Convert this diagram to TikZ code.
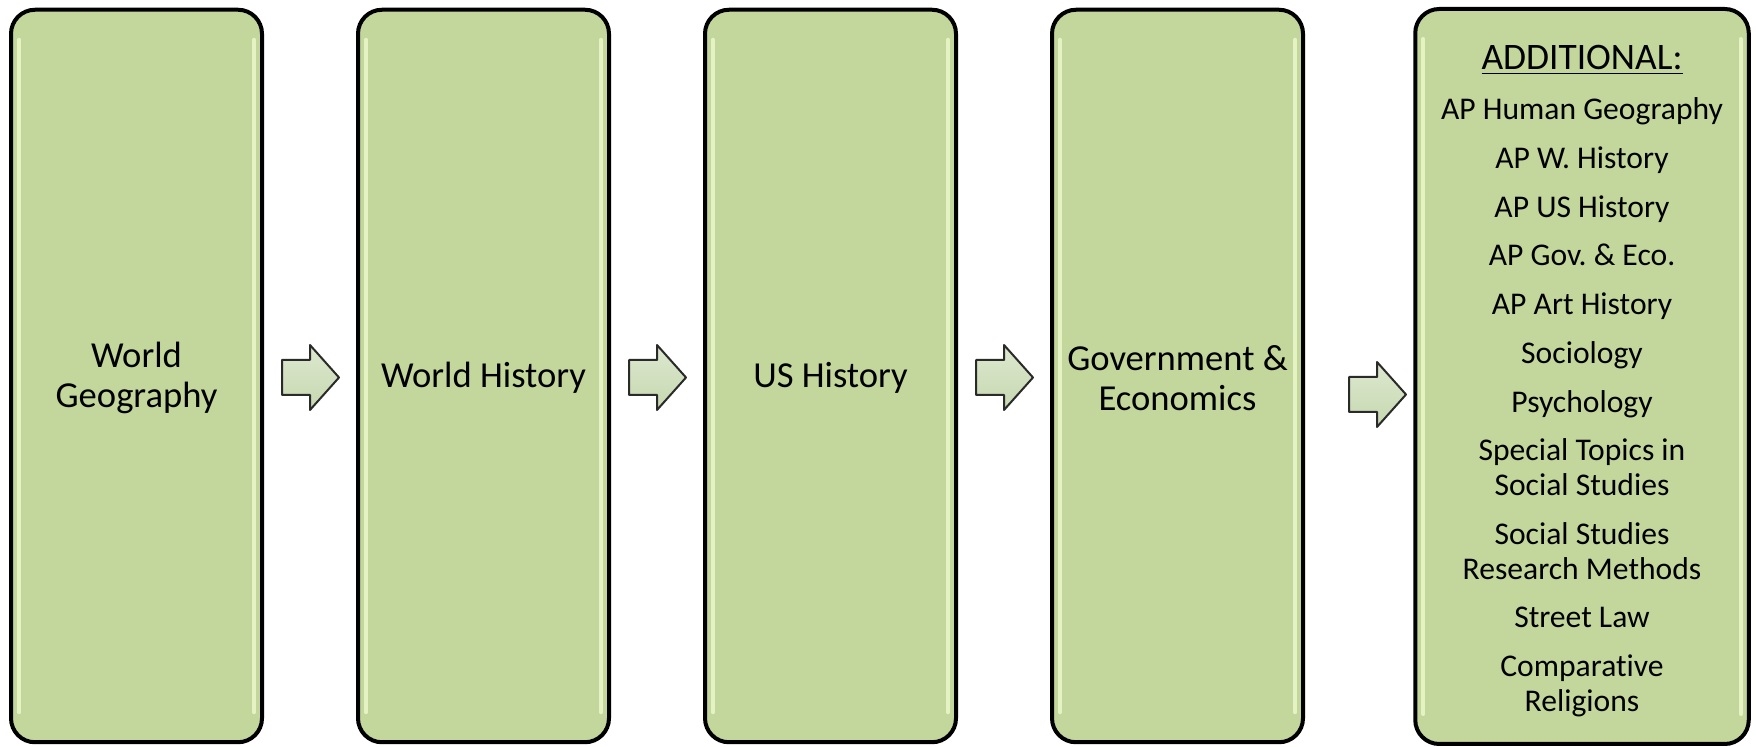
\documentclass[tikz,border=0pt]{standalone}
\usepackage{fontspec}
\setmainfont{Carlito}[Ligatures={NoCommon}]
\begin{document}
\frenchspacing
\begin{tikzpicture}[x=0.5pt,y=-0.5pt,
  box/.style={draw=black, line width=2pt, fill=boxgreen, rounded corners=12pt, inner sep=0pt},
  label/.style={align=center, inner sep=0pt, text=black},
  bigtext/.style={font=\fontsize{18.3}{20}\selectfont},
  smalltext/.style={font=\fontsize{15.8}{17.4}\selectfont},
  shine/.style={draw=shinecol, line width=2pt, line cap=round, opacity=0.7},
  flowarrow/.style={draw=arrowborder, line width=1pt, line join=round,
    top color=arrowlight, bottom color=arrowdark}
]
\definecolor{boxgreen}{HTML}{C3D69B}
\definecolor{shinecol}{HTML}{F4FFD6}
\definecolor{arrowborder}{HTML}{2A2A2A}
\definecolor{arrowlight}{HTML}{DDE8CF}
\definecolor{arrowdark}{HTML}{C6D8B0}
\useasboundingbox (0,0) rectangle (1756,747);

% main boxes
\node[box, minimum width=125.5pt, minimum height=366.25pt] (b1) at (136.5,376) {};
\node[box, minimum width=125.5pt, minimum height=366.25pt] (b2) at (483.5,376) {};
\node[box, minimum width=125.5pt, minimum height=366.25pt] (b3) at (830.5,376) {};
\node[box, minimum width=125.5pt, minimum height=366.25pt] (b4) at (1177.5,376) {};
\node[box, minimum width=166.75pt, minimum height=367.5pt] (b5) at (1582,376.5) {};

% glossy highlights
\foreach \n in {b1,b2,b3,b4,b5}{
  \draw[shine] ([xshift=5pt,yshift=-16pt]\n.north west) -- ([xshift=5pt,yshift=16pt]\n.south west);
  \draw[shine] ([xshift=-5pt,yshift=-16pt]\n.north east) -- ([xshift=-5pt,yshift=16pt]\n.south east);
}

% texts
\node[label, bigtext] (t1) at ([yshift=-1.1pt]b1.center) {World\\Geography};
\node[label, bigtext] (t2) at ([yshift=-1.1pt]b2.center) {World History};
\node[label, bigtext] (t3) at ([yshift=-1.1pt]b3.center) {US History};
\node[label, bigtext] (t4) at ([yshift=-1.1pt]b4.center) {Government \&\\Economics};
\node[label, smalltext] (t5) at ([yshift=-2.3pt]b5.center)
 {{\fontsize{18.7}{20}\selectfont\underline{ADDITIONAL:}}\\[7.6pt]
  AP Human Geography\\[6.95pt]
  AP W. History\\[6.95pt]
  AP US History\\[6.95pt]
  AP Gov. \& Eco.\\[6.95pt]
  AP Art History\\[6.95pt]
  Sociology\\[6.95pt]
  Psychology\\[6.95pt]
  Special Topics in\\Social Studies\\[6.95pt]
  Social Studies\\Research Methods\\[6.95pt]
  Street Law\\[6.95pt]
  Comparative\\Religions};

% arrows
\foreach \cx/\cy in {310.5/377.5, 657.5/377.5, 1004.5/377.5, 1377.5/394.5}{
  \draw[flowarrow] (\cx-28.5,\cy-17.5) -- (\cx-0.5,\cy-17.5) -- (\cx-0.5,\cy-32.5)
    -- (\cx+28.5,\cy) -- (\cx-0.5,\cy+32.5) -- (\cx-0.5,\cy+17.5)
    -- (\cx-28.5,\cy+17.5) -- cycle;
}
\end{tikzpicture}
\end{document}
